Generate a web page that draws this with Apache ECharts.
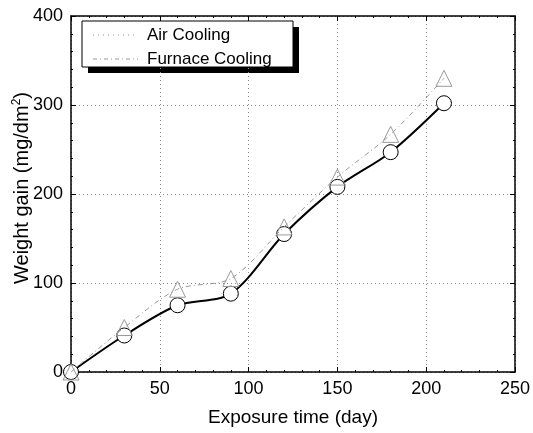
<!DOCTYPE html>
<html><head><meta charset="utf-8">
<script src="https://cdn.jsdelivr.net/npm/echarts@6/dist/echarts.min.js"></script>
<style>html,body{margin:0;padding:0;background:#fff}#c{width:533px;height:433px}</style>
</head><body><div id="c"></div>
<script>
const days = [0, 30, 60, 90, 120, 150, 180, 210];
const airCooling = [0, 41, 75, 88, 155, 208, 247, 302];
const furnaceCooling = [0, 50, 93, 105, 163, 219, 267, 330];
const seriesNames = ['Air Cooling', 'Furnace Cooling'];
const xTitle = 'Exposure time (day)';
const yTitle = 'Weight gain (mg/dm';

const chart = echarts.init(document.getElementById('c'));
const font = 'Liberation Sans, Arial, sans-serif';
const baseAxis = {
  axisLine: {show: true, onZero: false, lineStyle: {color: '#000', width: 1.5}},
  axisTick: {show: true, inside: true, length: 5, lineStyle: {color: '#000'}},
  minorTick: {show: true, splitNumber: 5, length: 2, lineStyle: {color: '#000'}},
};
chart.setOption({
  animation: false,
  backgroundColor: '#fff',
  grid: {left: 71, right: 17, top: 16, bottom: 61},
  xAxis: [Object.assign({
    type: 'value', min: 0, max: 250, interval: 50, position: 'bottom',
    name: xTitle, nameLocation: 'middle', nameGap: 36,
    nameTextStyle: {fontFamily: font, fontSize: 19, color: '#000'},
    axisLabel: {fontFamily: font, fontSize: 18, color: '#000', margin: 8},
    splitLine: {show: true, lineStyle: {color: '#888', type: [1, 3], width: 1}}
  }, baseAxis), Object.assign({
    type: 'value', min: 0, max: 250, interval: 50, position: 'top',
    axisLabel: {show: false}, splitLine: {show: false}
  }, baseAxis)],
  yAxis: [Object.assign({
    type: 'value', min: 0, max: 400, interval: 100, position: 'left',
    axisLabel: {fontFamily: font, fontSize: 18, color: '#000', margin: 8},
    splitLine: {show: true, lineStyle: {color: '#888', type: [1, 3], width: 1}}
  }, baseAxis), Object.assign({
    type: 'value', min: 0, max: 400, interval: 100, position: 'right',
    axisLabel: {show: false}, splitLine: {show: false}
  }, baseAxis)],
  legend: {
    left: 90, top: 25, orient: 'vertical', itemGap: 4, padding: 0,
    itemWidth: 52, itemHeight: 17, z: 10,
    textStyle: {fontFamily: font, fontSize: 17, color: '#000', lineHeight: 20},
    data: [
      {name: seriesNames[0], icon: 'none'},
      {name: seriesNames[1], icon: 'none'}
    ]
  },
  graphic: [
    {type: 'rect', shape: {x: 88, y: 27, width: 211, height: 46}, style: {fill: '#000'}, z: 0},
    {type: 'rect', shape: {x: 82, y: 21, width: 211, height: 46}, style: {fill: '#fff', stroke: '#000', lineWidth: 1}, z: 1},
    {type: 'line', shape: {x1: 93, y1: 35, x2: 138, y2: 35}, style: {stroke: '#999', lineDash: [1, 4], lineWidth: 1}, z: 2},
    {type: 'line', shape: {x1: 93, y1: 59, x2: 138, y2: 59}, style: {stroke: '#999', lineDash: [4, 3, 1, 3], lineWidth: 1}, z: 2},
    {type: 'text', x: 22, y: 188, rotation: Math.PI / 2, z: 5,
      style: {
        text: '{a|' + yTitle + '}{s|2}{a|)}',
        align: 'center', verticalAlign: 'middle',
        rich: {
          a: {fontFamily: font, fontSize: 20, fill: '#000', color: '#000'},
          s: {fontFamily: font, fontSize: 12, fill: '#000', color: '#000', verticalAlign: 'top', padding: [0, 0, 10, 0]}
        }
      }
    }
  ],
  series: [
    {
      name: seriesNames[0], type: 'line', smooth: 0.3,
      data: days.map((d, i) => [d, airCooling[i]]),
      symbol: 'circle', symbolSize: 15, showSymbol: true,
      lineStyle: {color: '#000', width: 2},
      itemStyle: {color: '#fff', borderColor: '#000', borderWidth: 1},
      z: 3
    },
    {
      name: seriesNames[1], type: 'line', smooth: 0.3,
      data: days.map((d, i) => [d, furnaceCooling[i]]),
      symbol: 'triangle', symbolSize: 16,
      lineStyle: {color: '#999', width: 1, type: [5, 3, 1, 3]},
      itemStyle: {color: 'rgba(255,255,255,0)', borderColor: '#999', borderWidth: 1},
      z: 4
    }
  ]
});
</script></body></html>
